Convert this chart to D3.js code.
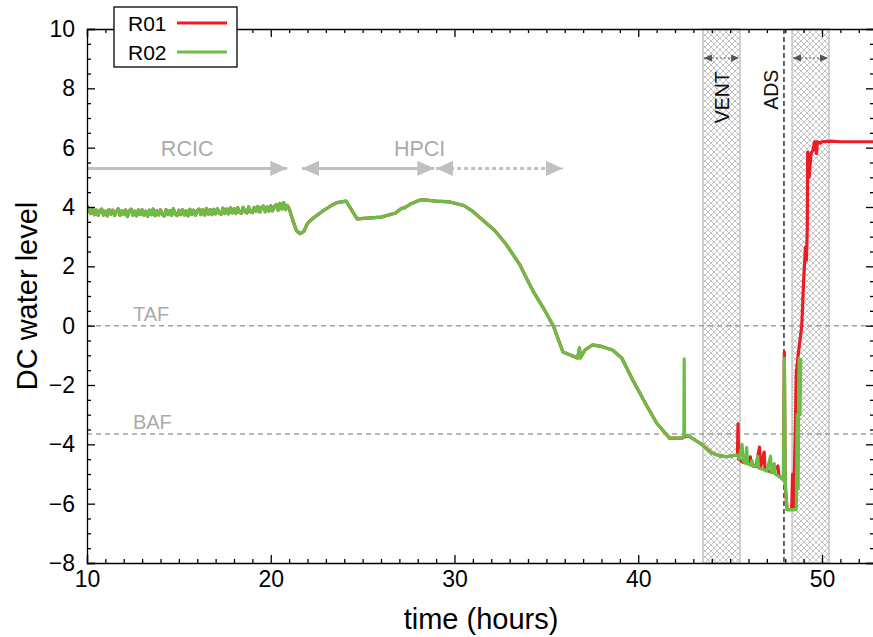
<!doctype html>
<html lang="en">
<head>
	<meta charset="UTF-8">
	<title>DC water level</title>
	<style>
		body { margin: 0; background: #fff; }
		svg { display: block; font-family: "Liberation Sans", Arial, sans-serif; }
		.axis path, .axis line { stroke: #000; stroke-width: 1.3; }
		.axis text { font-size: 23px; fill: #000; }
	</style>
</head>
<body>
	<script src="https://cdnjs.cloudflare.com/ajax/libs/d3/7.8.5/d3.min.js"></script>
	<script>
		// --- data ---
		// RCIC period: sampled every 0.1 h from t = 10.0
		var rcicStart = 10.0, rcicStep = 0.1;
		var rcicLevel = [
			4.05, 3.92, 3.78, 3.95, 3.74, 3.90, 3.72, 3.88, 3.93, 3.73,
			3.86, 3.70, 3.91, 3.76, 3.89, 3.71, 3.85, 3.94, 3.72, 3.88,
			3.75, 3.90, 3.68, 3.87, 3.93, 3.72, 3.86, 3.70, 3.90, 3.75,
			3.91, 3.72, 3.86, 3.69, 3.89, 3.74, 3.93, 3.71, 3.88, 3.73,
			3.90, 3.75, 3.70, 3.91, 3.74, 3.88, 3.72, 3.94, 3.76, 3.71,
			3.89, 3.74, 3.91, 3.73, 3.87, 3.70, 3.92, 3.75, 3.89, 3.72,
			3.88, 3.93, 3.74, 3.90, 3.73, 3.95, 3.76, 3.91, 3.74, 3.92,
			3.77, 3.94, 3.79, 3.75, 3.96, 3.78, 3.93, 3.77, 3.97, 3.80,
			3.94, 3.78, 3.98, 3.82, 3.79, 3.99, 3.83, 3.80, 4.00, 3.84,
			3.81, 3.99, 3.85, 4.02, 3.83, 3.98, 4.03, 3.84, 4.00, 3.86,
			4.04, 3.87, 4.02, 4.08, 3.89, 4.12, 3.93, 4.15, 3.91, 4.05
		];

		// common part of both runs after RCIC
		var sharedTime  = [21.0, 21.2, 21.4, 21.6, 21.8, 22.0, 22.3, 22.8, 23.3, 23.6, 24.1, 24.7, 26.0, 26.8, 27.1, 27.3, 27.6, 28.2, 29.0, 29.75, 30.5, 31.0, 31.5, 32.2, 32.8, 33.56, 34.0, 34.3, 34.9, 35.4, 35.9, 36.7, 36.8, 36.85, 37.1, 37.5, 38.0, 38.6, 39.1, 39.7, 40.5, 41.0, 41.7, 42.4];
		var sharedLevel = [3.95, 3.55, 3.20, 3.10, 3.18, 3.45, 3.62, 3.85, 4.05, 4.15, 4.20, 3.60, 3.66, 3.80, 3.95, 3.98, 4.10, 4.25, 4.20, 4.17, 4.05, 3.85, 3.58, 3.20, 2.75, 2.05, 1.50, 1.14, 0.53, -0.04, -0.89, -1.09, -0.75, -1.09, -0.82, -0.65, -0.70, -0.82, -1.09, -1.83, -2.74, -3.28, -3.79, -3.79];

		var r01Time  = [42.5, 42.7, 43.0, 43.5, 44.0, 44.4, 44.8, 45.4, 45.43, 45.46, 45.7, 46.0, 46.1, 46.15, 46.4, 46.6, 46.65, 46.85, 46.9, 47.3, 47.6, 47.65, 47.9, 47.95, 48.0, 48.1, 48.35, 48.4, 48.45, 48.55, 48.6, 48.7, 48.9, 49.0, 49.1, 49.15, 49.2, 49.22, 49.3, 49.4, 49.5, 49.6, 49.7, 49.75, 49.9, 50.0, 50.5, 51.0, 52.83];
		var r01Level = [-3.75, -3.70, -3.82, -4.02, -4.29, -4.38, -4.42, -4.36, -3.31, -4.50, -4.60, -4.62, -4.42, -4.68, -4.75, -4.09, -4.80, -4.26, -4.85, -4.95, -4.73, -5.05, -5.20, -0.89, -5.40, -6.20, -6.20, -5.00, -6.20, -3.50, -1.60, -1.00, 0.00, 1.50, 2.65, 2.20, 3.30, 5.85, 5.00, 5.80, 5.90, 6.20, 5.80, 6.20, 6.15, 6.20, 6.22, 6.20, 6.20];

		var r02Time  = [42.48, 42.5, 42.52, 42.7, 43.0, 43.5, 43.8, 44.0, 44.4, 44.8, 45.4, 45.5, 45.65, 45.72, 45.85, 45.9, 45.95, 46.1, 46.2, 46.25, 46.45, 46.5, 46.55, 46.8, 47.0, 47.2, 47.25, 47.4, 47.45, 47.7, 47.9, 47.95, 48.0, 48.1, 48.6, 48.65, 48.7, 48.75, 48.8, 48.85];
		var r02Level = [-3.72, -1.12, -3.72, -3.70, -3.82, -4.02, -4.20, -4.29, -4.38, -4.42, -4.36, -4.50, -4.00, -4.55, -4.65, -4.10, -4.65, -4.70, -4.55, -4.75, -4.72, -4.40, -4.80, -4.85, -4.90, -4.40, -4.95, -4.65, -5.00, -5.10, -5.20, -1.09, -5.30, -6.20, -6.20, -3.00, -5.50, -1.10, -3.00, -1.10];

		var seriesNames  = ['R01', 'R02'];
		var seriesColors = ['#ed1c24', '#6cbd45'];

		var levelLines  = [{ name: 'TAF', value: 0 }, { name: 'BAF', value: -3.65 }];
		var ventBand    = [43.52, 45.54];
		var adsBand     = [48.37, 50.38];
		var adsTime     = 47.93;
		var rcicArrow   = [10.0, 20.9];
		var hpciArrow   = [21.7, 28.9];
		var hpciDotted  = [29.0, 35.9];
		var arrowLevel  = 5.3;
		var bandArrowLevel = 9.02;

		var xTicks = [10, 20, 30, 40, 50];
		var yTicks = [-8, -6, -4, -2, 0, 2, 4, 6, 8, 10];

		// --- build series ---
		var shared = rcicLevel.map(function(v, i) {
			return { t: rcicStart + i * rcicStep, v: v };
		}).concat(sharedTime.map(function(t, i) { return { t: t, v: sharedLevel[i] }; }));

		var r01 = shared.concat(r01Time.map(function(t, i) { return { t: t, v: r01Level[i] }; }));
		var r02 = shared.concat(r02Time.map(function(t, i) { return { t: t, v: r02Level[i] }; }));
		var series = [r01, r02];

		// --- layout ---
		var W = 873, H = 637;
		var m = { left: 87, top: 29, right: -1, bottom: 74 };
		var w = W - m.left - m.right,
			h = H - m.top - m.bottom;

		var x = d3.scaleLinear().domain([10, 52.83]).range([0, w]);
		var y = d3.scaleLinear().domain([-8, 10]).range([h, 0]);

		var svg = d3.select('body').append('svg')
			.attr('width', W)
			.attr('height', H);

		var defs = svg.append('defs');
		var pat = defs.append('pattern')
			.attr('id', 'hatch')
			.attr('patternUnits', 'userSpaceOnUse')
			.attr('width', 6)
			.attr('height', 6);
		pat.append('rect').attr('width', 6).attr('height', 6).attr('fill', '#fff');
		pat.append('path')
			.attr('d', 'M0,0L6,6M6,0L0,6')
			.attr('stroke', '#bcbcbc')
			.attr('stroke-width', 0.9);

		defs.append('clipPath').attr('id', 'clip')
			.append('rect').attr('width', w).attr('height', h);

		function arrowMarker(id, color, size) {
			defs.append('marker')
				.attr('id', id)
				.attr('viewBox', '0 -5 10 10')
				.attr('refX', 10)
				.attr('refY', 0)
				.attr('markerUnits', 'userSpaceOnUse')
				.attr('markerWidth', size)
				.attr('markerHeight', size)
				.attr('orient', 'auto-start-reverse')
				.append('path')
				.attr('d', 'M0,-4.5L10,0L0,4.5Z')
				.attr('fill', color);
		}
		arrowMarker('headGray', '#c0c0c0', 17);
		arrowMarker('headDark', '#555', 8);

		var g = svg.append('g').attr('transform', 'translate(' + m.left + ',' + m.top + ')');

		// hatched bands
		g.selectAll('rect.band')
			.data([ventBand, adsBand])
			.enter().append('rect')
			.attr('class', 'band')
			.attr('x', function(d) { return x(d[0]); })
			.attr('width', function(d) { return x(d[1]) - x(d[0]); })
			.attr('y', 0)
			.attr('height', h)
			.attr('fill', 'url(#hatch)')
			.attr('stroke', '#c4c4c4')
			.attr('stroke-width', 1.5);

		// double arrows inside bands
		g.selectAll('line.bandArrow')
			.data([ventBand, adsBand])
			.enter().append('line')
			.attr('class', 'bandArrow')
			.attr('x1', function(d) { return x(d[0]) + 1; })
			.attr('x2', function(d) { return x(d[1]) - 1; })
			.attr('y1', y(bandArrowLevel))
			.attr('y2', y(bandArrowLevel))
			.attr('stroke', '#555')
			.attr('stroke-width', 1)
			.attr('stroke-dasharray', '2,2')
			.attr('marker-start', 'url(#headDark)')
			.attr('marker-end', 'url(#headDark)');

		// TAF / BAF
		g.selectAll('line.level')
			.data(levelLines)
			.enter().append('line')
			.attr('class', 'level')
			.attr('x1', 0).attr('x2', w)
			.attr('y1', function(d) { return y(d.value); })
			.attr('y2', function(d) { return y(d.value); })
			.attr('stroke', '#a0a0a0')
			.attr('stroke-width', 1.5)
			.attr('stroke-dasharray', '5,4');

		g.selectAll('text.level')
			.data(levelLines)
			.enter().append('text')
			.attr('class', 'level')
			.attr('x', x(12.5))
			.attr('y', function(d) { return y(d.value) - 5; })
			.attr('font-size', 20)
			.attr('fill', '#aaa')
			.text(function(d) { return d.name; });

		// ADS line
		g.append('line')
			.attr('x1', x(adsTime)).attr('x2', x(adsTime))
			.attr('y1', 0).attr('y2', h)
			.attr('stroke', '#000')
			.attr('stroke-width', 1.2)
			.attr('stroke-dasharray', '5,3');

		// system arrows
		g.append('line')
			.attr('x1', x(rcicArrow[0])).attr('x2', x(rcicArrow[1]))
			.attr('y1', y(arrowLevel)).attr('y2', y(arrowLevel))
			.attr('stroke', '#c0c0c0').attr('stroke-width', 3)
			.attr('marker-end', 'url(#headGray)');
		g.append('line')
			.attr('x1', x(hpciArrow[0])).attr('x2', x(hpciArrow[1]))
			.attr('y1', y(arrowLevel)).attr('y2', y(arrowLevel))
			.attr('stroke', '#c0c0c0').attr('stroke-width', 3)
			.attr('marker-start', 'url(#headGray)')
			.attr('marker-end', 'url(#headGray)');
		g.append('line')
			.attr('x1', x(hpciDotted[0])).attr('x2', x(hpciDotted[1]))
			.attr('y1', y(arrowLevel)).attr('y2', y(arrowLevel))
			.attr('stroke', '#c0c0c0').attr('stroke-width', 3)
			.attr('stroke-dasharray', '4,3')
			.attr('marker-start', 'url(#headGray)')
			.attr('marker-end', 'url(#headGray)');

		g.append('text')
			.attr('x', x((rcicArrow[0] + rcicArrow[1]) / 2))
			.attr('y', y(arrowLevel) - 12)
			.attr('text-anchor', 'middle')
			.attr('font-size', 21.5)
			.attr('fill', '#aaa')
			.text('RCIC');
		g.append('text')
			.attr('x', x(28.1))
			.attr('y', y(arrowLevel) - 12)
			.attr('text-anchor', 'middle')
			.attr('font-size', 21.5)
			.attr('fill', '#aaa')
			.text('HPCI');

		// VENT / ADS labels
		function vLabel(t, v, txt) {
			g.append('text')
				.attr('transform', 'translate(' + x(t) + ',' + y(v) + ') rotate(-90)')
				.attr('text-anchor', 'middle')
				.attr('dy', '0.36em')
				.attr('font-size', 19.5)
				.attr('fill', '#111')
				.text(txt);
		}
		vLabel((ventBand[0] + ventBand[1]) / 2, 7.7, 'VENT');
		vLabel(47.25, 7.95, 'ADS');

		// lines
		var line = d3.line()
			.x(function(d) { return x(d.t); })
			.y(function(d) { return y(d.v); });

		g.append('g').attr('clip-path', 'url(#clip)')
			.selectAll('path')
			.data(series)
			.enter().append('path')
			.attr('d', line)
			.attr('fill', 'none')
			.attr('stroke', function(d, i) { return seriesColors[i]; })
			.attr('stroke-width', 3.2)
			.attr('stroke-linejoin', 'round');

		// axes: ticks inward on all four sides
		var xMinor = d3.range(10, 53, 1).filter(function(v) { return v % 10 !== 0; });
		var yMinor = d3.range(-8, 10.01, 0.5).filter(function(v) { return v % 2 !== 0; });

		g.append('g').attr('class', 'axis').attr('transform', 'translate(0,' + h + ')')
			.call(d3.axisBottom(x).tickValues(xTicks).tickSize(-8).tickPadding(6).tickFormat(d3.format('d')))
			.call(function(s) { s.selectAll('text').attr('dy', '0.8em').attr('font-size', 24); });
		g.append('g').attr('class', 'axis').attr('transform', 'translate(0,' + h + ')')
			.call(d3.axisBottom(x).tickValues(xMinor).tickSize(-4).tickFormat(''))
			.select('.domain').remove();
		g.append('g').attr('class', 'axis')
			.call(d3.axisTop(x).tickValues(xTicks).tickSize(-8).tickFormat(''));
		g.append('g').attr('class', 'axis')
			.call(d3.axisTop(x).tickValues(xMinor).tickSize(-4).tickFormat(''))
			.select('.domain').remove();

		g.append('g').attr('class', 'axis')
			.call(d3.axisLeft(y).tickValues(yTicks).tickSize(-8).tickPadding(12).tickFormat(d3.format('d')));
		g.append('g').attr('class', 'axis')
			.call(d3.axisLeft(y).tickValues(yMinor).tickSize(-4).tickFormat(''))
			.select('.domain').remove();
		g.append('g').attr('class', 'axis').attr('transform', 'translate(' + w + ',0)')
			.call(d3.axisRight(y).tickValues(yTicks).tickSize(-8).tickFormat(''));
		g.append('g').attr('class', 'axis').attr('transform', 'translate(' + w + ',0)')
			.call(d3.axisRight(y).tickValues(yMinor).tickSize(-4).tickFormat(''))
			.select('.domain').remove();

		svg.selectAll('.axis .domain').attr('stroke-width', 1.5);

		// axis titles
		svg.append('text')
			.attr('x', m.left + 394)
			.attr('y', 629)
			.attr('text-anchor', 'middle')
			.attr('font-size', 29)
			.text('time (hours)');
		svg.append('text')
			.attr('transform', 'translate(37,' + (m.top + h / 2) + ') rotate(-90)')
			.attr('text-anchor', 'middle')
			.attr('font-size', 29)
			.text('DC water level');

		// legend
		var lg = svg.append('g').attr('transform', 'translate(114,7)');
		lg.append('rect')
			.attr('width', 123).attr('height', 60)
			.attr('fill', '#fff')
			.attr('stroke', '#000')
			.attr('stroke-width', 1.3);
		var items = lg.selectAll('g.item')
			.data(seriesNames)
			.enter().append('g')
			.attr('class', 'item')
			.attr('transform', function(d, i) { return 'translate(0,' + (16 + i * 29) + ')'; });
		items.append('text')
			.attr('x', 14)
			.attr('dy', '0.36em')
			.attr('font-size', 21)
			.text(function(d) { return d; });
		items.append('line')
			.attr('x1', 63).attr('x2', 113)
			.attr('stroke', function(d, i) { return seriesColors[i]; })
			.attr('stroke-width', 3);
	</script>
</body>
</html>
